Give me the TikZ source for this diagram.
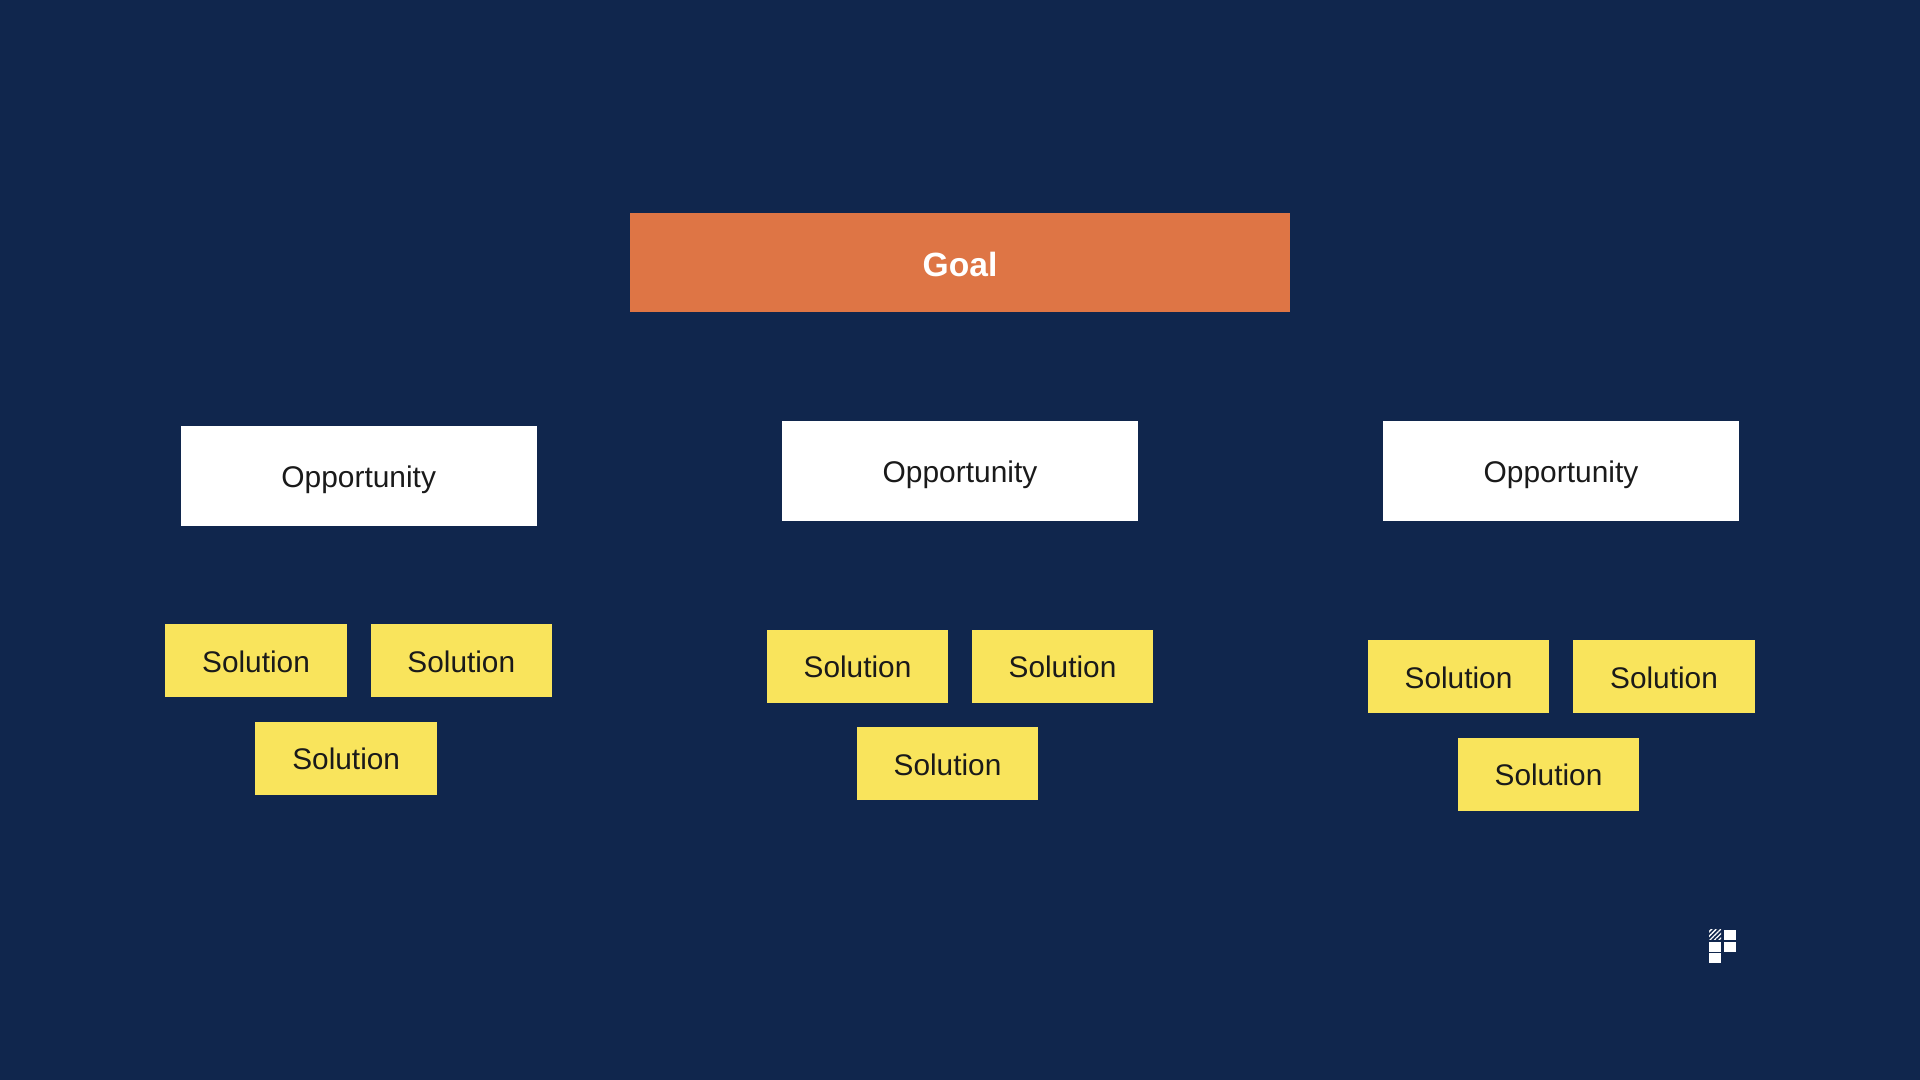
\documentclass[tikz,border=0pt]{standalone}
\usepackage{fontspec}
\setmainfont{Liberation Sans}
\usetikzlibrary{patterns.meta}
\definecolor{navy}{HTML}{10264D}
\definecolor{goalorange}{HTML}{DE7545}
\definecolor{solutionyellow}{HTML}{F9E45C}
\definecolor{inkblack}{HTML}{1A1A1A}
\tikzstyle{every node}=[inner sep=0pt, outer sep=0pt, text height=23pt, text depth=0pt]

\begin{document}
\begin{tikzpicture}[
    x=1pt, y=-1pt,
    goal/.style={%
        fill=goalorange, text=white,
        minimum width=660pt, minimum height=99.5pt,
        text height=27pt,
        font=\fontsize{33.6}{40}\selectfont\bfseries},
    opportunity/.style={%
        fill=white, text=inkblack,
        minimum width=356pt, minimum height=100pt,
        font=\fontsize{29.9}{36}\selectfont},
    solution/.style={%
        fill=solutionyellow, text=inkblack,
        minimum width=181.5pt, minimum height=73pt,
        font=\fontsize{29.8}{36}\selectfont},
    logobit/.style={%
        fill=white, minimum width=12pt, minimum height=10pt,
        text height=0pt, text depth=0pt},
]
    % Background
    \useasboundingbox[fill=navy] (0,0) rectangle (1920,1079.6);

    % Goal
    \node[goal] (goal) at (960,262.7) {Goal};

    % Opportunities
    \node[opportunity] (opportunity1) at (358.7,476) {Opportunity};
    \node[opportunity] (opportunity2) at (960,471) {Opportunity};
    \node[opportunity] (opportunity3) at (1561,471) {Opportunity};

    % Solutions under the first opportunity
    \node[solution] (solution11) at (256,660.6) {Solution};
    \node[solution] (solution12) at (461.3,660.6) {Solution};
    \node[solution] (solution13) at (346.2,758) {Solution};
    %
    % Solutions under the second opportunity
    \node[solution] (solution21) at (857.5,666) {Solution};
    \node[solution] (solution22) at (1062.5,666) {Solution};
    \node[solution] (solution23) at (947.5,763.5) {Solution};
    %
    % Solutions under the third opportunity
    \node[solution] (solution31) at (1458.5,676.5) {Solution};
    \node[solution] (solution32) at (1664,676.5) {Solution};
    \node[solution] (solution33) at (1548.5,774.3) {Solution};

    % Logo
    \node[logobit,fill=none,pattern={Lines[angle=45,distance=3.2pt,line width=1.3pt]},pattern color=white] (logo1) at (1715,934.7) {};
    \node[logobit] (logo2) at (1729.7,934.7) {};
    \node[logobit] (logo3) at (1715,946.5) {};
    \node[logobit] (logo4) at (1729.7,946.5) {};
    \node[logobit] (logo5) at (1715,958.2) {};
\end{tikzpicture}
\end{document}
